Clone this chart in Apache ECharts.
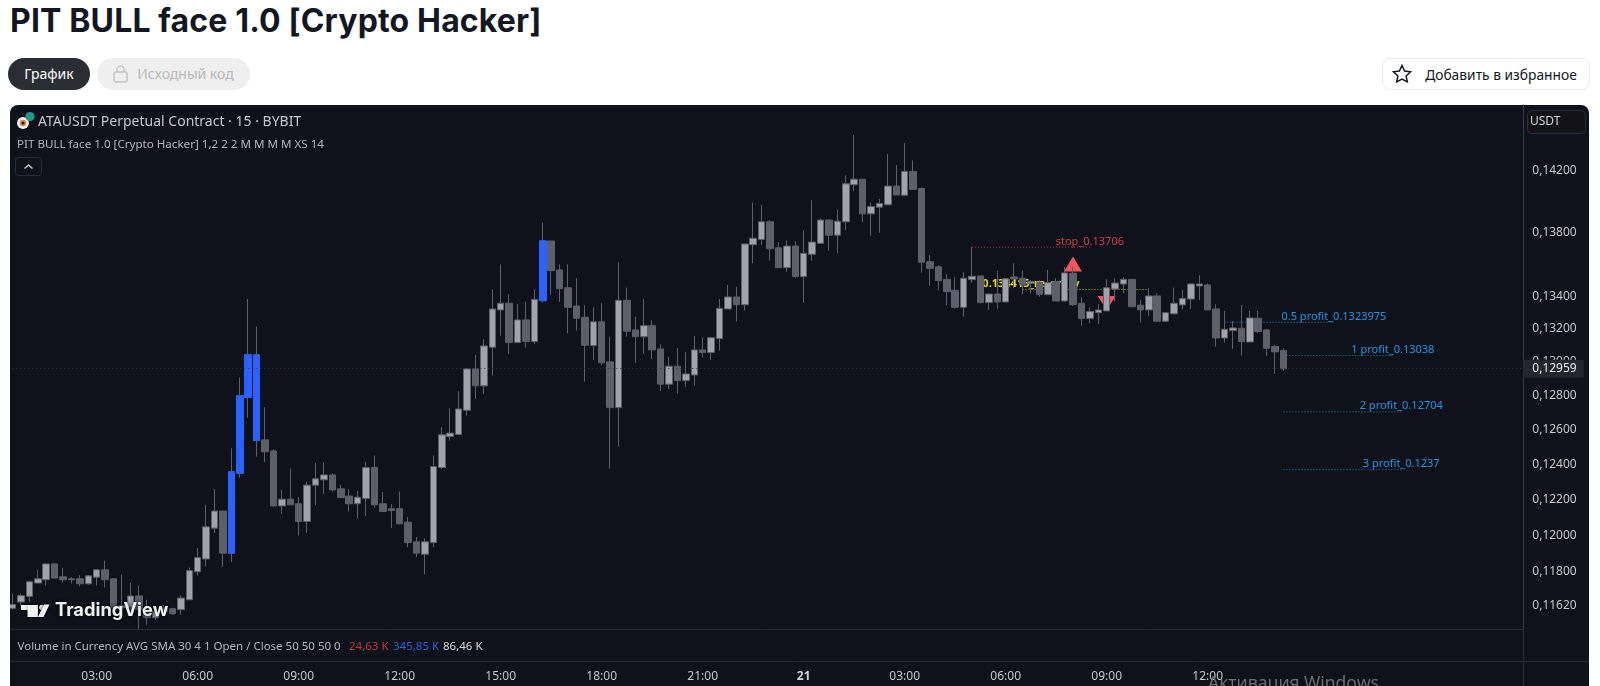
<!DOCTYPE html>
<html>
<head>
<meta charset="utf-8">
<script src="https://cdn.jsdelivr.net/npm/echarts@6/dist/echarts.min.js"></script>
<style>
    html, body { margin: 0; height: 100%; background: #fff; overflow: hidden; font-family: "Noto Sans", sans-serif; }
    h1 { position: absolute; left: 10px; top: 2px; margin: 0; font: 700 32px/38px Inter, sans-serif; letter-spacing: 0.15px; color: #131722; white-space: nowrap; }
    .pill { position: absolute; top: 58px; height: 32px; line-height: 31px; border-radius: 16px; font-size: 14px; box-sizing: border-box; text-align: center; }
    #tabChart { left: 8px; width: 82px; background: #2a2e33; color: #fff; }
    #tabCode { left: 97px; width: 153px; background: #efefef; color: #b8b8b8; padding-left: 24px; }
    #fav { left: 1382px; width: 208px; border: 1px solid #ebebeb; border-radius: 8px; color: #131722; padding-left: 30px; font-size: 13.8px; }
    .pill svg { position: absolute; }
    #panel { position: absolute; left: 10px; top: 105px; width: 1579px; height: 600px; border-radius: 8px; background: #0f121a; }
    #container { position: absolute; left: 0; top: 0; width: 1600px; height: 686px; }
</style>
</head>
<body>
<h1>PIT BULL face 1.0 [Crypto Hacker]</h1>
<div class="pill" id="tabChart">График</div>
<div class="pill" id="tabCode">
    <svg style="left:15px;top:7px" width="17" height="18" viewBox="0 0 17 18" fill="none" stroke="#c4c4c4" stroke-width="1.5"><rect x="2" y="7" width="13" height="10" rx="2"/><path d="M5 7V4.5a3.5 3.5 0 0 1 7 0V7"/></svg>
    Исходный код</div>
<div class="pill" id="fav">
    <svg style="left:9px;top:5px" width="20" height="20" viewBox="0 0 20 20" fill="none" stroke="#131722" stroke-width="1.5"><path d="M10 1.5l2.6 5.6 6 .7-4.5 4.1 1.2 6L10 15l-5.3 2.9 1.2-6L1.4 7.8l6-.7z"/></svg>
    Добавить в избранное</div>
<div id="panel"></div>
<div id="container"></div>
<script type="text/javascript">
// 15 min bars, 00:30 on the 20th up to the right edge of the chart
var categories = [
    '00:30','00:45','01:00','01:15','01:30','01:45','02:00','02:15','02:30','02:45',
    '03:00','03:15','03:30','03:45','04:00','04:15','04:30','04:45','05:00','05:15','05:30','05:45',
    '06:00','06:15','06:30','06:45','07:00','07:15','07:30','07:45','08:00','08:15','08:30','08:45',
    '09:00','09:15','09:30','09:45','10:00','10:15','10:30','10:45','11:00','11:15','11:30','11:45',
    '12:00','12:15','12:30','12:45','13:00','13:15','13:30','13:45','14:00','14:15','14:30','14:45',
    '15:00','15:15','15:30','15:45','16:00','16:15','16:30','16:45','17:00','17:15','17:30','17:45',
    '18:00','18:15','18:30','18:45','19:00','19:15','19:30','19:45','20:00','20:15','20:30','20:45',
    '21:00','21:15','21:30','21:45','22:00','22:15','22:30','22:45','23:00','23:15','23:30','23:45',
    '21','00:15','00:30','00:45','01:00','01:15','01:30','01:45','02:00','02:15','02:30','02:45',
    '03:00','03:15','03:30','03:45','04:00','04:15','04:30','04:45','05:00','05:15','05:30','05:45',
    '06:00','06:15','06:30','06:45','07:00','07:15','07:30','07:45','08:00','08:15','08:30','08:45',
    '09:00','09:15','09:30','09:45','10:00','10:15','10:30','10:45','11:00','11:15','11:30','11:45',
    '12:00','12:15','12:30','12:45','13:00','13:15','13:30','13:45','14:00','14:15','14:30','14:45',
    '15:00','15:15','15:30','15:45','16:00','16:15','16:30','16:45','17:00','17:15','17:30','17:45',
    '18:00','18:15','18:30','18:45','19:00','19:15','19:30','19:45','20:00','20:15','20:30','20:45',
    '21:00','21:15'
];
var timeTickBars = [10, 22, 34, 46, 58, 70, 82, 94, 106, 118, 130, 142];

var opens = [
    0.11604,0.11638,0.11668,0.11740,0.11758,0.11844,0.11774,0.11763,0.11763,0.11736,0.11772,0.11812,
    0.11763,0.11606,0.11609,0.11670,0.11597,0.11554,0.11586,0.11602,0.11597,0.11650,0.11801,0.11871,
    0.12041,0.12136,0.11903,0.12350,0.12790,0.13042,0.12541,0.12477,0.12165,0.12203,0.12177,0.12078,
    0.12282,0.12312,0.12340,0.12261,0.12220,0.12177,0.12206,0.12382,0.12177,0.12149,0.12149,0.12074,
    0.11965,0.11897,0.11961,0.12382,0.12560,0.12572,0.12713,0.12958,0.12857,0.13088,0.13315,0.13356,
    0.13116,0.13254,0.13122,0.13372,0.13745,0.13563,0.13452,0.13339,0.13270,0.13098,0.13242,0.13000,
    0.12729,0.13374,0.13193,0.13152,0.13219,0.13078,0.12867,0.12974,0.12888,0.12922,0.13072,0.13056,
    0.13140,0.13321,0.13395,0.13347,0.13721,0.13755,0.13867,0.13702,0.13577,0.13713,0.13521,0.13661,
    0.13730,0.13878,0.13782,0.13867,0.14106,0.14142,0.13918,0.13961,0.13976,0.14097,0.14038,0.14193,
    0.14082,0.13614,0.13582,0.13504,0.13436,0.13331,0.13502,0.13525,0.13360,0.13413,0.13364,0.13519,
    0.13511,0.13479,0.13483,0.13409,0.13490,0.13370,0.13542,0.13356,0.13262,0.13298,0.13309,0.13444,
    0.13475,0.13504,0.13344,0.13315,0.13401,0.13246,0.13291,0.13346,0.13382,0.13463,0.13469,0.13321,
    0.13144,0.13189,0.13203,0.13120,0.13264,0.13193,0.13092,0.13068
];
var closes = [
    0.11624,0.11672,0.11747,0.11763,0.11844,0.11767,0.11758,0.11758,0.11736,0.11779,0.11812,0.11758,
    0.11606,0.11618,0.11670,0.11597,0.11554,0.11586,0.11602,0.11575,0.11659,0.11808,0.11879,0.12048,
    0.12136,0.11903,0.12358,0.12798,0.13042,0.12537,0.12472,0.12165,0.12203,0.12171,0.12078,0.12282,
    0.12318,0.12340,0.12255,0.12212,0.12177,0.12214,0.12382,0.12171,0.12134,0.12139,0.12065,0.11961,
    0.11903,0.11965,0.12388,0.12570,0.12580,0.12721,0.12958,0.12857,0.13096,0.13321,0.13356,0.13116,
    0.13254,0.13122,0.13380,0.13745,0.13559,0.13446,0.13331,0.13264,0.13100,0.13242,0.12994,0.12729,
    0.13374,0.13185,0.13152,0.13219,0.13072,0.12867,0.12974,0.12888,0.12928,0.13072,0.13056,0.13146,
    0.13325,0.13395,0.13347,0.13726,0.13762,0.13867,0.13696,0.13577,0.13713,0.13521,0.13667,0.13738,
    0.13878,0.13782,0.13871,0.14112,0.14142,0.13918,0.13965,0.13985,0.14097,0.14040,0.14193,0.14076,
    0.13611,0.13573,0.13496,0.13428,0.13331,0.13511,0.13523,0.13360,0.13413,0.13364,0.13508,0.13506,
    0.13469,0.13490,0.13411,0.13483,0.13370,0.13544,0.13347,0.13262,0.13305,0.13315,0.13452,0.13481,
    0.13504,0.13335,0.13315,0.13401,0.13246,0.13298,0.13356,0.13386,0.13475,0.13475,0.13315,0.13144,
    0.13197,0.13205,0.13122,0.13266,0.13183,0.13082,0.13060,0.12959
];
var lows = [
    0.11597,0.11615,0.11638,0.11740,0.11726,0.11765,0.11743,0.11737,0.11722,0.11731,0.11727,0.11716,
    0.11581,0.11597,0.11600,0.11495,0.11516,0.11543,0.11570,0.11570,0.11570,0.11650,0.11781,0.11830,
    0.12014,0.11827,0.11855,0.12325,0.12669,0.12445,0.12413,0.12158,0.12119,0.12171,0.12000,0.12014,
    0.12171,0.12233,0.12246,0.12208,0.12134,0.12093,0.12109,0.12156,0.12134,0.12041,0.12061,0.11936,
    0.11881,0.11787,0.11936,0.12373,0.12537,0.12572,0.12682,0.12780,0.12808,0.12918,0.13158,0.13046,
    0.13116,0.13086,0.13108,0.13360,0.13407,0.13364,0.13173,0.13189,0.12882,0.13012,0.12978,0.12376,
    0.12502,0.13152,0.12994,0.13048,0.13016,0.12827,0.12839,0.12811,0.12852,0.12857,0.13028,0.13012,
    0.13068,0.13321,0.13244,0.13311,0.13604,0.13719,0.13621,0.13577,0.13551,0.13511,0.13360,0.13621,
    0.13730,0.13684,0.13667,0.13814,0.14064,0.13867,0.13778,0.13797,0.13976,0.14040,0.14034,0.14076,
    0.13546,0.13463,0.13434,0.13344,0.13323,0.13274,0.13483,0.13356,0.13315,0.13321,0.13364,0.13449,
    0.13413,0.13417,0.13396,0.13409,0.13370,0.13366,0.13339,0.13219,0.13234,0.13230,0.13309,0.13366,
    0.13417,0.13331,0.13238,0.13279,0.13244,0.13240,0.13291,0.13319,0.13321,0.13376,0.13315,0.13092,
    0.13116,0.13078,0.13038,0.13120,0.13173,0.13036,0.12928,0.12948
];
var highs = [
    0.11683,0.11683,0.11753,0.11812,0.11846,0.11846,0.11823,0.11772,0.11783,0.11783,0.11816,0.11862,
    0.11768,0.11785,0.11742,0.11727,0.11650,0.11618,0.11624,0.11607,0.11673,0.11824,0.11930,0.12171,
    0.12261,0.12136,0.12493,0.12908,0.13382,0.13213,0.12731,0.12487,0.12255,0.12376,0.12214,0.12302,
    0.12407,0.12411,0.12350,0.12284,0.12261,0.12249,0.12415,0.12451,0.12244,0.12175,0.12246,0.12102,
    0.11991,0.11985,0.12451,0.12615,0.12725,0.12825,0.12964,0.13042,0.13136,0.13442,0.13598,0.13413,
    0.13352,0.13366,0.13442,0.13861,0.13745,0.13598,0.13598,0.13511,0.13344,0.13331,0.13356,0.13152,
    0.13611,0.13452,0.13274,0.13382,0.13252,0.13106,0.13030,0.13082,0.13058,0.13156,0.13148,0.13146,
    0.13382,0.13469,0.13458,0.13726,0.13991,0.13974,0.13878,0.13738,0.13749,0.13743,0.13814,0.14006,
    0.13889,0.13884,0.13946,0.14167,0.14433,0.14142,0.13991,0.14014,0.14308,0.14234,0.14380,0.14266,
    0.14089,0.13656,0.13592,0.13536,0.13517,0.13548,0.13707,0.13525,0.13413,0.13559,0.13508,0.13604,
    0.13559,0.13500,0.13500,0.13563,0.13511,0.13580,0.13584,0.13393,0.13331,0.13352,0.13504,0.13511,
    0.13517,0.13504,0.13376,0.13449,0.13417,0.13298,0.13452,0.13438,0.13481,0.13530,0.13479,0.13350,
    0.13309,0.13248,0.13346,0.13309,0.13309,0.13193,0.13102,0.13082
];
var signalBars = [26, 27, 28, 29, 63];   // blue candles
var lastPrice = 0.12959;
var priceTicks = [0.142, 0.138, 0.134, 0.132, 0.13, 0.128, 0.126, 0.124, 0.122, 0.12, 0.118, 0.1162];

// signal levels: label, price, first bar, last bar, bar of the label
var levelLabels = ['stop_0.13706', '0.134415_re_entry', '0.5 profit_0.1323975', '1 profit_0.13038', '2 profit_0.12704', '3 profit_0.1237'];
var levelPrices = [0.13706, 0.134415, 0.1323975, 0.13038, 0.12704, 0.1237];
var levelFrom = [114, 120, 144, 151, 151, 151];
var levelTo = [128, 135, 157, 164, 165, 165];
var levelLabelAt = [128, 121, 157, 164, 165, 165];
var levelColors = ['#d43c45', '#e6d62a', '#2196e6', '#2196e6', '#2196e6', '#2196e6'];

var upArrows = [[126, 0.13600]];
var downArrows = [[130, 0.13358]];

var CHART_FONT = '"Noto Sans", sans-serif';

var dom = document.getElementById('container');
var chart = echarts.init(dom);

var candleData = [];
var signalData = [];
for (var i = 0; i < opens.length; i++) {
    candleData.push([opens[i], closes[i], lows[i], highs[i]]);
    if (signalBars.indexOf(i) >= 0) {
        signalData.push([opens[i], closes[i], Math.min(opens[i], closes[i]), Math.max(opens[i], closes[i])]);
    } else {
        signalData.push('-');
    }
}

function priceText(v) {
    return v.toFixed(5).replace('.', ',');
}

var levelSeries = levelLabels.map(function (label, n) {
    var data = [];
    for (var j = levelFrom[n]; j <= levelTo[n]; j++) {
        var item = { value: [j, levelPrices[n]] };
        if (j === levelLabelAt[n]) {
            item.label = { show: true, formatter: label, position: 'top', distance: 0, color: levelColors[n], fontSize: 11, fontFamily: CHART_FONT, fontWeight: n === 1 ? 'bold' : 'normal' };
        }
        data.push(item);
    }
    return {
        name: label,
        type: 'line',
        data: data,
        z: 1,
        silent: true,
        symbol: 'circle',
        symbolSize: 0,
        showSymbol: true,
        showAllSymbol: true,
        lineStyle: { color: levelColors[n], width: 1, type: [1, 2], opacity: 0.85 }
    };
});

function txt(x, y, text, color, size, weight) {
    return { type: 'text', z: 50, silent: true, style: { x: x, y: y, text: text, fill: color, font: (weight || 'normal') + ' ' + size + 'px ' + CHART_FONT, textVerticalAlign: 'middle' } };
}
function hline(x1, y1, x2, y2) {
    return { type: 'line', z: 40, silent: true, shape: { x1: x1, y1: y1, x2: x2, y2: y2 }, style: { stroke: '#2a2e39', lineWidth: 1 } };
}

var graphics = [
    // keeps the grid's first pixels off the white page
    { type: 'rect', z: 45, silent: true, shape: { x: 0, y: 115, width: 10, height: 571 }, style: { fill: '#fff' } },
    hline(10, 661.5, 1589, 661.5),
    hline(1523.5, 629, 1523.5, 686),
    // symbol logo and header
    { type: 'circle', z: 50, silent: true, shape: { cx: 23, cy: 123, r: 6 }, style: { fill: '#f1f1f1' } },
    { type: 'circle', z: 51, silent: true, shape: { cx: 23, cy: 123, r: 2.4 }, style: { fill: '#0f121a', stroke: '#e8892c', lineWidth: 1.6 } },
    { type: 'circle', z: 50, silent: true, shape: { cx: 30, cy: 116.5, r: 4.6 }, style: { fill: '#1b9a8c' } },
    txt(38, 122, 'ATAUSDT Perpetual Contract · 15 · BYBIT', '#c3c6ce', 14),
    txt(17, 144.5, 'PIT BULL face 1.0 [Crypto Hacker] 1,2 2 2 M M M M XS 14', '#b2b5be', 11.6),
    { type: 'rect', z: 50, silent: true, shape: { x: 15.5, y: 157.5, width: 26, height: 18, r: 3 }, style: { fill: 'transparent', stroke: '#2a2e39', lineWidth: 1 } },
    { type: 'polyline', z: 50, silent: true, shape: { points: [[24.5, 168.5], [28.5, 165], [32.5, 168.5]] }, style: { fill: 'none', stroke: '#c8cad0', lineWidth: 1.4 } },
    // unit box
    { type: 'rect', z: 50, silent: true, shape: { x: 1527.5, y: 110.5, width: 58, height: 23, r: 4 }, style: { fill: '#131316', stroke: '#2a2e39', lineWidth: 1 } },
    txt(1530, 121.5, 'USDT', '#d1d4dc', 12),
    // volume pane legend
    txt(17.5, 646.5, 'Volume in Currency AVG SMA 30 4 1 Open / Close 50 50 50 0', '#b2b5be', 11.5),
    txt(349, 646.5, '24,63 K', '#c4393f', 11.5),
    txt(393, 646.5, '345,85 K', '#2f62d4', 11.5),
    txt(443, 646.5, '86,46 K', '#d6d8de', 11.5),
    // watermark
    { type: 'rect', z: 59, silent: true, shape: { x: 21, y: 605, width: 17, height: 5 }, style: { fill: '#f0f0f0', shadowBlur: 3, shadowColor: '#000' } },
    { type: 'rect', z: 59, silent: true, shape: { x: 27.5, y: 605, width: 10.5, height: 12 }, style: { fill: '#f0f0f0', shadowBlur: 3, shadowColor: '#000' } },
    { type: 'circle', z: 59, silent: true, shape: { cx: 42, cy: 607.5, r: 2.8 }, style: { fill: '#f0f0f0', shadowBlur: 3, shadowColor: '#000' } },
    { type: 'polygon', z: 59, silent: true, shape: { points: [[44, 604.5], [49.5, 604.5], [43.5, 617], [38, 617]] }, style: { fill: '#f0f0f0', shadowBlur: 3, shadowColor: '#000' } },
    { type: 'text', z: 59, silent: true, style: { x: 55, y: 611, text: 'TradingView', fill: '#f0f0f0', font: '700 18.3px Inter, sans-serif', textVerticalAlign: 'middle', textShadowBlur: 4, textShadowColor: '#000' } },
    // OS overlay from the screenshot
    { type: 'text', z: 60, silent: true, style: { x: 1208, y: 684, text: 'Активация Windows', fill: '#717278', font: '17.6px "Open Sans", sans-serif', textVerticalAlign: 'middle' } }
];

var option = {
    animation: false,
    backgroundColor: 'transparent',
    textStyle: { fontFamily: CHART_FONT },
    grid: { left: 8.3, width: 1515, top: 105, height: 524 },
    xAxis: {
        type: 'category',
        data: categories,
        axisLine: { lineStyle: { color: '#2a2e39' } },
        axisTick: { show: false },
        splitLine: { show: false },
        axisLabel: {
            color: '#c4c7ce',
            fontSize: 12,
            margin: 42,
            interval: function (index) { return timeTickBars.indexOf(index) >= 0; },
            formatter: function (value) { return value === '21' ? '{day|21}' : value; },
            rich: { day: { color: '#d1d4dc', fontSize: 12, fontWeight: 'bold' } }
        }
    },
    yAxis: {
        type: 'log',
        position: 'right',
        min: 0.11494,
        max: 0.14634,
        axisLine: { show: true, lineStyle: { color: '#363a45' } },
        axisTick: { show: false },
        splitLine: { show: false },
        minorTick: { show: false },
        axisLabel: { color: '#c4c7ce', fontSize: 12, margin: 9, customValues: priceTicks, formatter: priceText }
    },
    series: levelSeries.concat([
        {
            name: 'arrows up',
            type: 'scatter',
            z: 1,
            silent: true,
            symbol: 'triangle',
            symbolSize: [18, 15],
            itemStyle: { color: '#f7525f', opacity: 1 },
            data: upArrows
        },
        {
            name: 'arrows down',
            type: 'scatter',
            z: 1,
            silent: true,
            symbol: 'triangle',
            symbolRotate: 180,
            symbolSize: [18, 14],
            itemStyle: { color: '#f7525f', opacity: 1 },
            data: downArrows
        },
        {
            name: 'ATAUSDT',
            type: 'candlestick',
            z: 2,
            silent: true,
            barWidth: 7,
            itemStyle: { color: '#a0a3ab', color0: '#5d606b', borderColor: '#5d606b', borderColor0: '#5d606b', borderWidth: 1 },
            data: candleData,
            markLine: {
                silent: true,
                symbol: 'none',
                animation: false,
                precision: 5,
                lineStyle: { color: '#333744', type: [1, 3], width: 1 },
                label: {
                    position: 'end',
                    distance: 0,
                    formatter: priceText(lastPrice),
                    color: '#e8e9ec',
                    fontSize: 12,
                    backgroundColor: '#23262f',
                    padding: [3, 7, 3, 9]
                },
                data: [{ yAxis: lastPrice }]
            }
        },
        {
            name: 'signal',
            type: 'candlestick',
            z: 3,
            silent: true,
            barWidth: 7,
            itemStyle: { color: '#2962ff', color0: '#2962ff', borderColor: '#2962ff', borderColor0: '#2962ff', borderWidth: 1 },
            data: signalData
        }
    ]),
    graphic: graphics
};

if (option && typeof option === 'object') {
    chart.setOption(option);
}
</script>
</body>
</html>
